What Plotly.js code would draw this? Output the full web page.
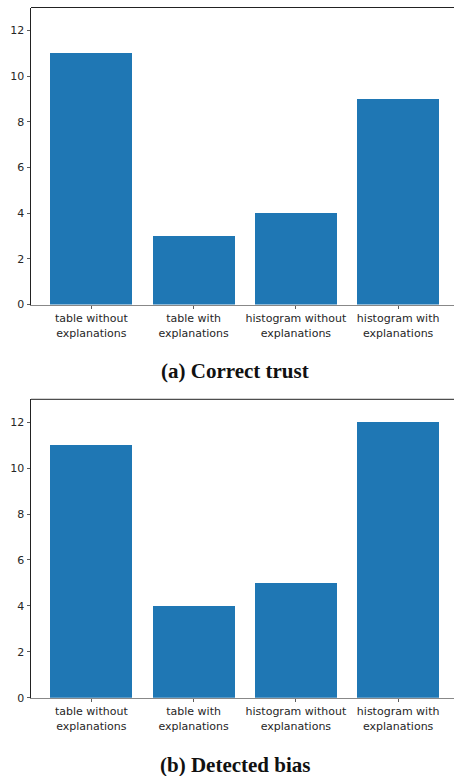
<!DOCTYPE html>
<html><head><meta charset="utf-8">
<script src="https://cdn.plot.ly/plotly-3.0.1.min.js"></script>
<style>html,body{margin:0;padding:0;background:#fff}</style>
</head><body><div id="chart" style="width:454px;height:776px"></div>
<script>
const categories = ["table without<br>explanations", "table with<br>explanations", "histogram without<br>explanations", "histogram with<br>explanations"];
const correctTrust = [11, 3, 4, 9];
const detectedBias = [11, 4, 5, 12];
const yTicks = [0, 2, 4, 6, 8, 10, 12];
const captions = ["(a) Correct trust", "(b) Detected bias"];

const W = 454, H = 776;
const idx = categories.map((c, i) => i);
const barColor = "#1f77b4";
const tickFont = {family: "DejaVu Sans", size: 11, color: "#262626"};

const traces = [
  {type: "bar", x: idx, y: correctTrust, width: 0.8, marker: {color: barColor}, xaxis: "x", yaxis: "y", hoverinfo: "none"},
  {type: "bar", x: idx, y: detectedBias, width: 0.8, marker: {color: barColor}, xaxis: "x2", yaxis: "y2", hoverinfo: "none"}
];

const xdom = [31 / W, 1];
const topDom = [1 - 304.5 / H, 1 - 7.5 / H];
const botDom = [1 - 697.7 / H, 1 - 399.3 / H];

function xax(anchor) {
  return {
    domain: xdom, anchor: anchor, range: [-0.59, 3.546],
    tickmode: "array", tickvals: idx, ticktext: categories,
    ticks: "outside", ticklen: 3.5, tickcolor: "#333", tickwidth: 0.8,
    showline: true, linecolor: "#888", linewidth: 1,
    showgrid: false, zeroline: false, tickfont: tickFont, automargin: false
  };
}
function yax(anchor, dom) {
  return {
    domain: dom, anchor: anchor, range: [0, 13],
    tickmode: "array", tickvals: yTicks, ticktext: yTicks.map(String),
    ticks: "outside", ticklen: 3.5, tickcolor: "#333", tickwidth: 0.8,
    showline: true, linecolor: "#222", linewidth: 1,
    showgrid: false, zeroline: false, tickfont: tickFont, automargin: false
  };
}

const layout = {
  width: W, height: H,
  margin: {l: 0, r: 0, t: 0, b: 0},
  paper_bgcolor: "#fff", plot_bgcolor: "#fff",
  showlegend: false,
  bargap: 0,
  xaxis: xax("y"), yaxis: yax("x", topDom),
  xaxis2: xax("y2"), yaxis2: yax("x2", botDom),
  shapes: [
    {type: "line", xref: "paper", yref: "paper", x0: xdom[0], x1: 1, y0: topDom[1], y1: topDom[1], line: {color: "#222", width: 1}},
    {type: "line", xref: "paper", yref: "paper", x0: xdom[0], x1: 1, y0: botDom[1], y1: botDom[1], line: {color: "#222", width: 1}}
  ],
  annotations: [
    {text: "<b>" + captions[0] + "</b>", xref: "paper", yref: "paper", x: 235 / W, y: 1 - 370.7 / H, showarrow: false, xanchor: "center", yanchor: "middle", font: {family: "Liberation Serif", size: 21, color: "#111"}},
    {text: "<b>" + captions[1] + "</b>", xref: "paper", yref: "paper", x: 235 / W, y: 1 - 765 / H, showarrow: false, xanchor: "center", yanchor: "middle", font: {family: "Liberation Serif", size: 21, color: "#111"}}
  ]
};

Plotly.newPlot("chart", traces, layout, {staticPlot: true, displayModeBar: false});
</script></body></html>
